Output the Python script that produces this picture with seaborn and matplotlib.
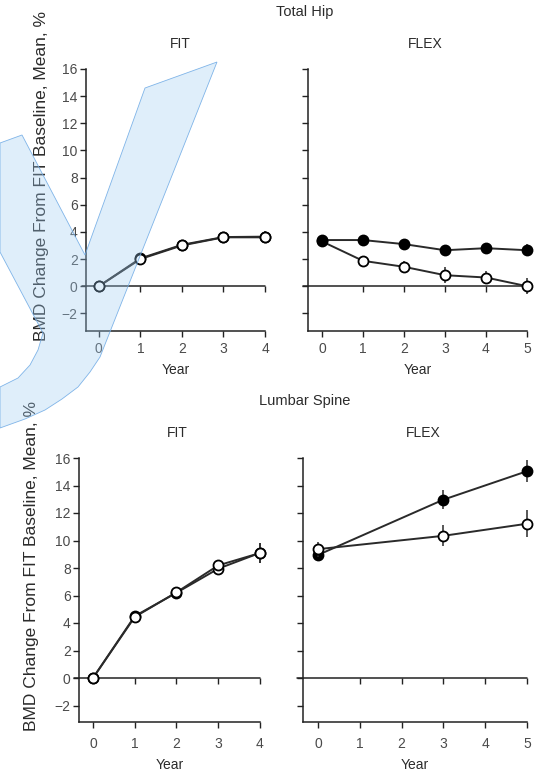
import numpy as np
import pandas as pd
import matplotlib
matplotlib.use("Agg")
import matplotlib.pyplot as plt
import seaborn as sns
from matplotlib.patches import Polygon

# ---------------- data ----------------
years_fit = [0, 1, 2, 3, 4]
years_hip_flex = [0, 1, 2, 3, 4, 5]
years_spine_flex = [0, 3, 5]

hip_fit_aln = [0.0, 2.05, 3.05, 3.62, 3.65]
hip_fit_pbo = [0.0, 2.0, 3.0, 3.6, 3.6]
hip_fit_err = [0.0, 0.2, 0.2, 0.2, 0.4]

hip_flex_aln = [3.4, 3.4, 3.1, 2.65, 2.8, 2.65]
hip_flex_aln_err = [0.2, 0.2, 0.25, 0.4, 0.4, 0.45]
hip_flex_pbo = [3.3, 1.87, 1.43, 0.81, 0.64, 0.0]
hip_flex_pbo_err = [0.3, 0.35, 0.4, 0.6, 0.5, 0.6]

spine_fit_aln = [0.0, 4.5, 6.2, 7.95, 9.1]
spine_fit_pbo = [0.0, 4.44, 6.23, 8.19, 9.09]
spine_fit_err = [0.0, 0.2, 0.2, 0.3, 0.75]

spine_flex_aln = [8.95, 12.97, 15.04]
spine_flex_aln_err = [0.3, 0.67, 0.8]
spine_flex_pbo = [9.37, 10.34, 11.22]
spine_flex_pbo_err = [0.55, 0.77, 1.0]

y_ticks = [-2, 0, 2, 4, 6, 8, 10, 12, 14, 16]
section_titles = ["Total Hip", "Lumbar Spine"]
panel_titles = ["FIT", "FLEX"]
y_label = "BMD Change From FIT Baseline, Mean, %"
x_label = "Year"

# watermark outline (pixel coords of the 543x772 canvas)
wm_x = [0, 22, 85, 145, 217, 100, 90, 78, 62, 45, 25, 0, 0, 18, 30, 38, 43, 0]
wm_y = [143, 135, 255, 88, 62, 357, 372, 387, 399, 410, 419, 428, 387, 378, 365, 350, 333, 252]

# ---------------- style ----------------
sns.set_theme(style="ticks")
plt.rcParams["font.family"] = ["Liberation Sans", "DejaVu Sans"]

W, H = 543, 772
fig = plt.figure(figsize=(W / 100, H / 100), dpi=100)

TXT = "#2b2b2b"
TICK = "#4a4a4a"
LINE = "#2a2a2a"


def px_axes(left, top, right, bottom):
    return fig.add_axes([left / W, 1 - bottom / H, (right - left) / W, (bottom - top) / H])


def draw_series(ax, years, vals, errs, filled, zorder):
    df = pd.DataFrame({"year": years, "bmd": vals})
    ax.errorbar(years, vals, yerr=errs, fmt="none", ecolor=LINE, elinewidth=1.1,
                capsize=0, zorder=zorder, clip_on=False)
    sns.lineplot(data=df, x="year", y="bmd", ax=ax, color=LINE, linewidth=1.4,
                 marker="o", markersize=7.2,
                 markerfacecolor=("black" if filled else "white"),
                 markeredgecolor="black", markeredgewidth=1.3,
                 zorder=zorder + 1, clip_on=False, errorbar=None)


def style_axes(ax, xmax, xmin, ymin, labels_left, xpad, labelpad):
    ax.set_xlim(xmin, xmax)
    ax.set_ylim(ymin, 16)
    ax.set_yticks(y_ticks)
    ax.set_xticks(list(range(0, xmax + 1)))
    sns.despine(ax=ax)
    for s in ("left", "bottom"):
        ax.spines[s].set_linewidth(1.1)
        ax.spines[s].set_color("#222222")
    ax.tick_params(direction="out", length=4, width=1.0, color="#222222",
                   labelsize=10, labelcolor=TICK, pad=2)
    ax.tick_params(axis="x", pad=xpad)
    ax.set_yticklabels([str(t).replace("-", "\u2212") for t in y_ticks] if labels_left else [])
    ax.set_xlabel(x_label, fontsize=10, color=TXT, labelpad=labelpad)
    ax.set_ylabel("")
    ax.axhline(0, xmin=-0.025, xmax=1, color="#222222", linewidth=1.1, clip_on=False, zorder=1)
    sec = ax.secondary_xaxis(0, transform=ax.transData)
    sec.set_xticks(list(range(1, xmax + 1)))
    sec.tick_params(direction="out", length=4, width=1.0, color="#222222", labelbottom=False)
    sec.spines["bottom"].set_visible(False)
    ax.set_facecolor("none")


# Total Hip - FIT
ax1 = px_axes(86, 69, 265, 331)
draw_series(ax1, years_fit, hip_fit_aln, hip_fit_err, False, 3)
draw_series(ax1, years_fit, hip_fit_pbo, hip_fit_err, False, 5)
style_axes(ax1, 4, -0.31, -3.3, True, 4, 5)

# Total Hip - FLEX
ax2 = px_axes(308, 69, 527, 331)
draw_series(ax2, years_hip_flex, hip_flex_pbo, hip_flex_pbo_err, False, 3)
draw_series(ax2, years_hip_flex, hip_flex_aln, hip_flex_aln_err, True, 5)
style_axes(ax2, 5, -0.34, -3.3, False, 4, 5)

# Lumbar Spine - FIT
ax3 = px_axes(79, 458, 260, 722)
draw_series(ax3, years_fit, spine_fit_aln, spine_fit_err, False, 3)
draw_series(ax3, years_fit, spine_fit_pbo, spine_fit_err, False, 5)
style_axes(ax3, 4, -0.335, -3.2, True, 7, 5)

# Lumbar Spine - FLEX
ax4 = px_axes(303, 458, 527, 722)
draw_series(ax4, years_spine_flex, spine_flex_aln, spine_flex_aln_err, True, 3)
draw_series(ax4, years_spine_flex, spine_flex_pbo, spine_flex_pbo_err, False, 5)
style_axes(ax4, 5, -0.36, -3.2, False, 7, 5)

# texts
def ftext(x, y, s, size, **kw):
    fig.text(x / W, 1 - y / H, s, fontsize=size, color=TXT, ha="center", va="center", **kw)

ftext(305, 12, section_titles[0], 10.5)
ftext(180, 44, panel_titles[0], 10)
ftext(425, 44, panel_titles[1], 10)
ftext(305, 401, section_titles[1], 10.5)
ftext(177, 433, panel_titles[0], 10)
ftext(423, 433, panel_titles[1], 10)
ftext(42, 176, y_label, 12.5, rotation=90)
ftext(32, 566, y_label, 12.5, rotation=90)

# watermark overlay
pts = np.column_stack([np.array(wm_x) / W, 1 - np.array(wm_y) / H])
fig.patches.append(Polygon(pts, closed=True, transform=fig.transFigure,
                           facecolor=(0.62, 0.80, 0.95, 0.33),
                           edgecolor=(0.45, 0.68, 0.90, 0.9), linewidth=0.6, zorder=10))

fig.savefig("out.png", dpi=100)
